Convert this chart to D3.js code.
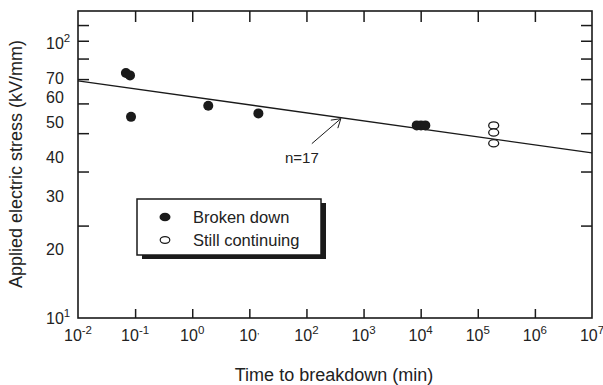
<!DOCTYPE html>
<html>
<head>
<meta charset="utf-8">
<script src="https://cdn.jsdelivr.net/npm/d3@7"></script>
<style>
  body { margin: 0; background: #fff; }
  svg { display: block; font-family: "Liberation Sans", Arial, sans-serif; }
  .tick line { stroke: #1a1a1a; stroke-width: 1.5; }
</style>
</head>
<body>
<svg id="chart" width="603" height="385"></svg>
<script>
// data
const brokenTime   = [0.069, 0.0814, 0.0848, 1.91, 14.4, 8530, 10140, 12060];
const brokenStress = [62.8, 61.7, 45.2, 49.1, 46.4, 42.4, 42.4, 42.4];
const contTime     = [190000, 190000, 190000];
const contStress   = [42.4, 40.2, 37.1];
const fitTime      = [1e-2, 1e7];
const fitStress    = [59.2, 34.5];

const xTicks = [1e-2, 1e-1, 1e0, 1e1, 1e2, 1e3, 1e4, 1e5, 1e6, 1e7];
const xTickExp = ["-2", "-1", "0", ",", "2", "3", "4", "5", "6", "7"];
const yMinorTicks = [20, 30, 40, 50, 60, 70, 80, 90];
// labels as printed in the figure, and the axis value beside which each one sits
const yLabels = [["10", "2"], ["70"], ["60"], ["50"], ["40"], ["30"], ["20"], ["10", "1"]];
const yLabelAt = [78.4, 60.5, 52.3, 43.5, 33.3, 25, 16.8, 10];
const legendLabels = ["Broken down", "Still continuing"];

const svg = d3.select("#chart");
const mLeft = 78, mRight = 592, mTop = 11, mBottom = 318;

const x = d3.scaleLog().domain([1e-2, 1e7]).range([mLeft, mRight]);
const y = d3.scaleLog().domain([10, 100]).range([mBottom, mTop]);

const ink = "#1a1a1a";

// ticks on all four sides, pointing inward
function strip(g) {
    g.select(".domain").remove();
    g.selectAll("text").remove();
}
svg.append("g").attr("transform", `translate(0,${mBottom})`)
    .call(d3.axisBottom(x).tickValues(xTicks.slice(1, -1)).tickSize(-9).tickFormat(""))
    .call(strip);
svg.append("g").attr("transform", `translate(0,${mTop})`)
    .call(d3.axisTop(x).tickValues(xTicks.slice(1, -1)).tickSize(-11).tickFormat(""))
    .call(strip);
svg.append("g").attr("transform", `translate(${mLeft},0)`)
    .call(d3.axisLeft(y).tickValues(yMinorTicks).tickSize(-11).tickFormat(""))
    .call(strip);
svg.append("g").attr("transform", `translate(${mRight},0)`)
    .call(d3.axisRight(y).tickValues(yMinorTicks).tickSize(-11).tickFormat(""))
    .call(strip);

// frame
svg.append("rect")
    .attr("x", mLeft).attr("y", mTop)
    .attr("width", mRight - mLeft).attr("height", mBottom - mTop)
    .attr("fill", "none").attr("stroke", ink).attr("stroke-width", 1.6);

// x tick labels
const xl = svg.append("g")
    .selectAll("text")
    .data(xTicks)
    .enter().append("text")
    .attr("x", d => x(d))
    .attr("y", 341)
    .attr("text-anchor", "middle")
    .attr("font-size", 16)
    .attr("fill", "#222");
xl.append("tspan").text("10");
xl.append("tspan")
    .attr("font-size", (d, i) => xTickExp[i] === "," ? 9 : 11.5)
    .attr("dy", -7)
    .text((d, i) => xTickExp[i]);

// y tick labels
const yl = svg.append("g")
    .selectAll("text")
    .data(yLabels)
    .enter().append("text")
    .attr("x", 46)
    .attr("y", (d, i) => y(yLabelAt[i]))
    .attr("dy", "0.36em")
    .attr("font-size", 16)
    .attr("fill", "#222");
yl.append("tspan").text(d => d[0]);
yl.filter(d => d.length > 1).append("tspan")
    .attr("font-size", 11.5)
    .attr("dy", -7)
    .text(d => d[1]);

// axis titles
svg.append("text")
    .attr("x", 334)
    .attr("y", 381)
    .attr("text-anchor", "middle")
    .attr("font-size", 18)
    .attr("fill", "#222")
    .text("Time to breakdown (min)");
svg.append("text")
    .attr("transform", "translate(22,164) rotate(-90)")
    .attr("text-anchor", "middle")
    .attr("font-size", 18)
    .attr("fill", "#222")
    .text("Applied electric stress (kV/mm)");

// fitted line
const fit = fitTime.map((t, i) => [t, fitStress[i]]);
svg.append("path")
    .attr("d", d3.line().x(d => x(d[0])).y(d => y(d[1]))(fit))
    .attr("fill", "none")
    .attr("stroke", ink)
    .attr("stroke-width", 1.4);

// annotation n=17 with arrow
const tip = [x(400), y(44.6)];
const tail = [tip[0] - 29, tip[1] + 25];
svg.append("path")
    .attr("d", `M${tail[0]},${tail[1]}L${tip[0]},${tip[1]}`
        + `M${tip[0] - 10},${tip[1] + 1.5}L${tip[0]},${tip[1]}L${tip[0] - 3},${tip[1] + 9.5}`)
    .attr("fill", "none")
    .attr("stroke", ink)
    .attr("stroke-width", 1);
svg.append("text")
    .attr("x", 285).attr("y", 163)
    .attr("font-size", 15)
    .attr("fill", "#222")
    .text("n=17");

// data points
const broken = brokenTime.map((t, i) => [t, brokenStress[i]]);
const cont = contTime.map((t, i) => [t, contStress[i]]);

svg.append("g")
    .selectAll("circle")
    .data(broken)
    .enter().append("circle")
    .attr("cx", d => x(d[0]))
    .attr("cy", d => y(d[1]))
    .attr("r", 5)
    .attr("fill", ink);

svg.append("g")
    .selectAll("ellipse")
    .data(cont)
    .enter().append("ellipse")
    .attr("cx", d => x(d[0]))
    .attr("cy", d => y(d[1]))
    .attr("rx", 5)
    .attr("ry", 3.6)
    .attr("fill", "#fff")
    .attr("stroke", ink)
    .attr("stroke-width", 1.3);

// legend with drop shadow
const lg = svg.append("g").attr("transform", "translate(137,199)");
const lw = 184, lh = 56;
lg.append("rect")
    .attr("x", 5).attr("y", 4)
    .attr("width", lw).attr("height", lh)
    .attr("fill", ink);
lg.append("rect")
    .attr("width", lw).attr("height", lh)
    .attr("fill", "#fff")
    .attr("stroke", ink)
    .attr("stroke-width", 1.5);

const item = lg.selectAll(".item")
    .data(legendLabels)
    .enter().append("g")
    .attr("class", "item")
    .attr("transform", (d, i) => `translate(0,${18 + i * 23})`);
item.append("ellipse")
    .attr("cx", 28)
    .attr("rx", (d, i) => i === 0 ? 5.5 : 4.8)
    .attr("ry", (d, i) => i === 0 ? 4.3 : 3.4)
    .attr("fill", (d, i) => i === 0 ? ink : "#fff")
    .attr("stroke", ink)
    .attr("stroke-width", (d, i) => i === 0 ? 0 : 1.2);
item.append("text")
    .attr("x", 56)
    .attr("dy", "0.36em")
    .attr("font-size", 16.5)
    .attr("fill", "#222")
    .text(d => d);
</script>
</body>
</html>
